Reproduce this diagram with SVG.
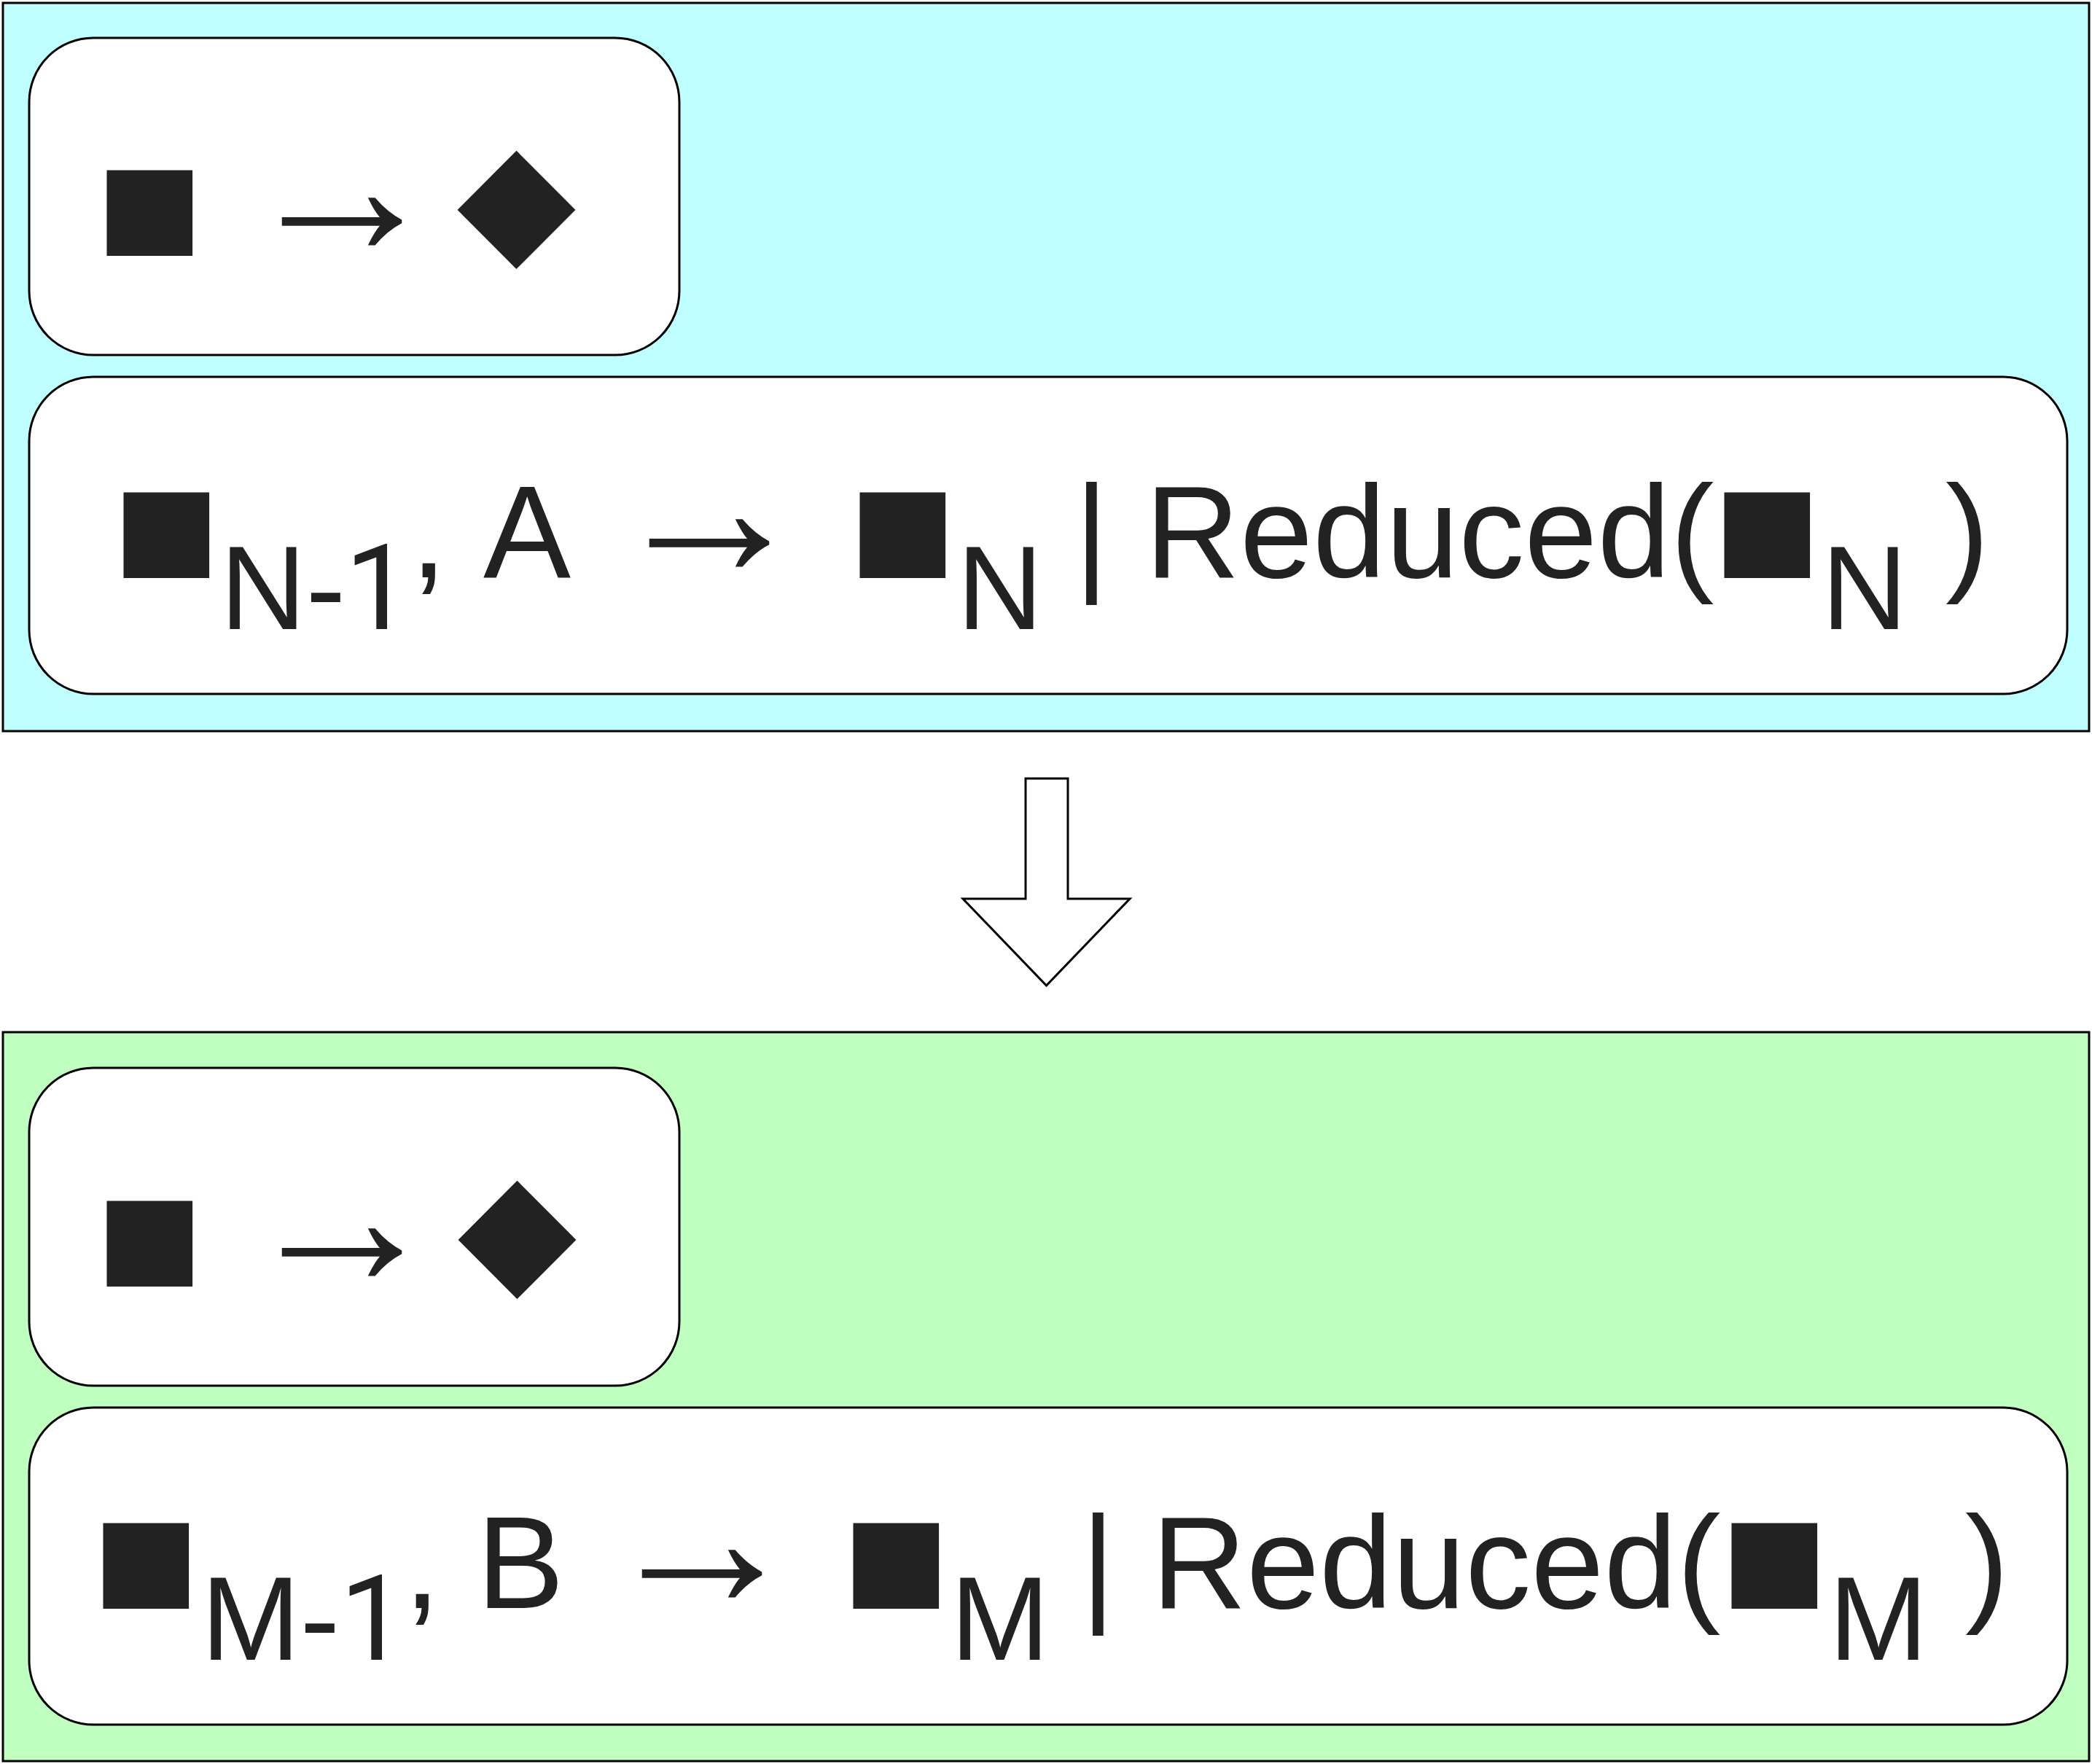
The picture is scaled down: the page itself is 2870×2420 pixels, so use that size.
<svg xmlns="http://www.w3.org/2000/svg" width="2870" height="2420" viewBox="0 0 2870 2420">
<style>
.panel{stroke:#000;stroke-width:3}
.box{fill:#fff;stroke:#000;stroke-width:3}
.big{fill:#fff;stroke:#000;stroke-width:3;stroke-linejoin:miter}
text{fill:#222;font-kerning:none}
.t{font-family:"Liberation Sans",Arial,sans-serif;font-size:180px}
.sub{font-size:163px}
.one{font-family:Roboto,"Liberation Sans",sans-serif;font-size:163px}
.sq{font-family:"Liberation Sans",Arial,sans-serif;font-size:243px}
.ar{font-family:"Liberation Sans",Arial,sans-serif;font-size:278px}
.dm{font-family:"DejaVu Sans",sans-serif;font-size:212px}
</style>
<rect x="0" y="0" width="2870" height="2420" fill="#fff"/>
<g id="panel-n">
<rect class="panel" x="4" y="4" width="2862" height="999" fill="#bfffff"/>
</g>
<g id="rule-n1">
<rect class="box" x="40" y="52" width="892" height="435" rx="88" ry="88"/>
<text class="t"><tspan class="sq" x="132" y="365">■</tspan><tspan class="ar" x="330" y="350">→</tspan><tspan class="dm" x="627" y="343">◆</tspan></text>
</g>
<g id="rule-n2">
<rect class="box" x="40" y="517" width="2796" height="435" rx="88" ry="88"/>
<text class="t"><tspan class="sq" x="155" y="807">■</tspan><tspan class="sub" x="302" y="863">N-</tspan><tspan class="one" x="473" y="863">1</tspan><tspan x="563" y="792">, A</tspan><tspan class="ar" x="834" y="791">→</tspan><tspan class="sq" x="1165" y="807">■</tspan><tspan class="sub" x="1313" y="863">N</tspan><tspan x="1474" y="792">|</tspan><tspan x="1571" y="792">Reduced(</tspan><tspan class="sq" x="2351" y="807">■</tspan><tspan class="sub" x="2499" y="863">N</tspan><tspan x="2669" y="792">)</tspan></text>
</g>
<g id="panel-m">
<rect class="panel" x="4" y="1416" width="2862" height="1000" fill="#bfffbf"/>
</g>
<g id="rule-m1">
<rect class="box" x="40" y="1465" width="892" height="436" rx="88" ry="88"/>
<text class="t"><tspan class="sq" x="132" y="1779">■</tspan><tspan class="ar" x="330" y="1764">→</tspan><tspan class="dm" x="628" y="1756">◆</tspan></text>
</g>
<g id="rule-m2">
<rect class="box" x="40" y="1931" width="2796" height="435" rx="88" ry="88"/>
<text class="t"><tspan class="sq" x="127" y="2221">■</tspan><tspan class="sub" x="276" y="2277">M-</tspan><tspan class="one" x="466" y="2277">1</tspan><tspan x="554" y="2206">, B</tspan><tspan class="ar" x="824" y="2205">→</tspan><tspan class="sq" x="1156" y="2221">■</tspan><tspan class="sub" x="1304" y="2277">M</tspan><tspan x="1483" y="2206">|</tspan><tspan x="1580" y="2206">Reduced(</tspan><tspan class="sq" x="2361" y="2221">■</tspan><tspan class="sub" x="2509" y="2277">M</tspan><tspan x="2696" y="2206">)</tspan></text>
</g>
<g id="connectors">
<polygon class="big" points="1407,1068 1465,1068 1465,1233 1550,1233 1435.5,1352 1321,1233 1407,1233"/>
</g>
</svg>
